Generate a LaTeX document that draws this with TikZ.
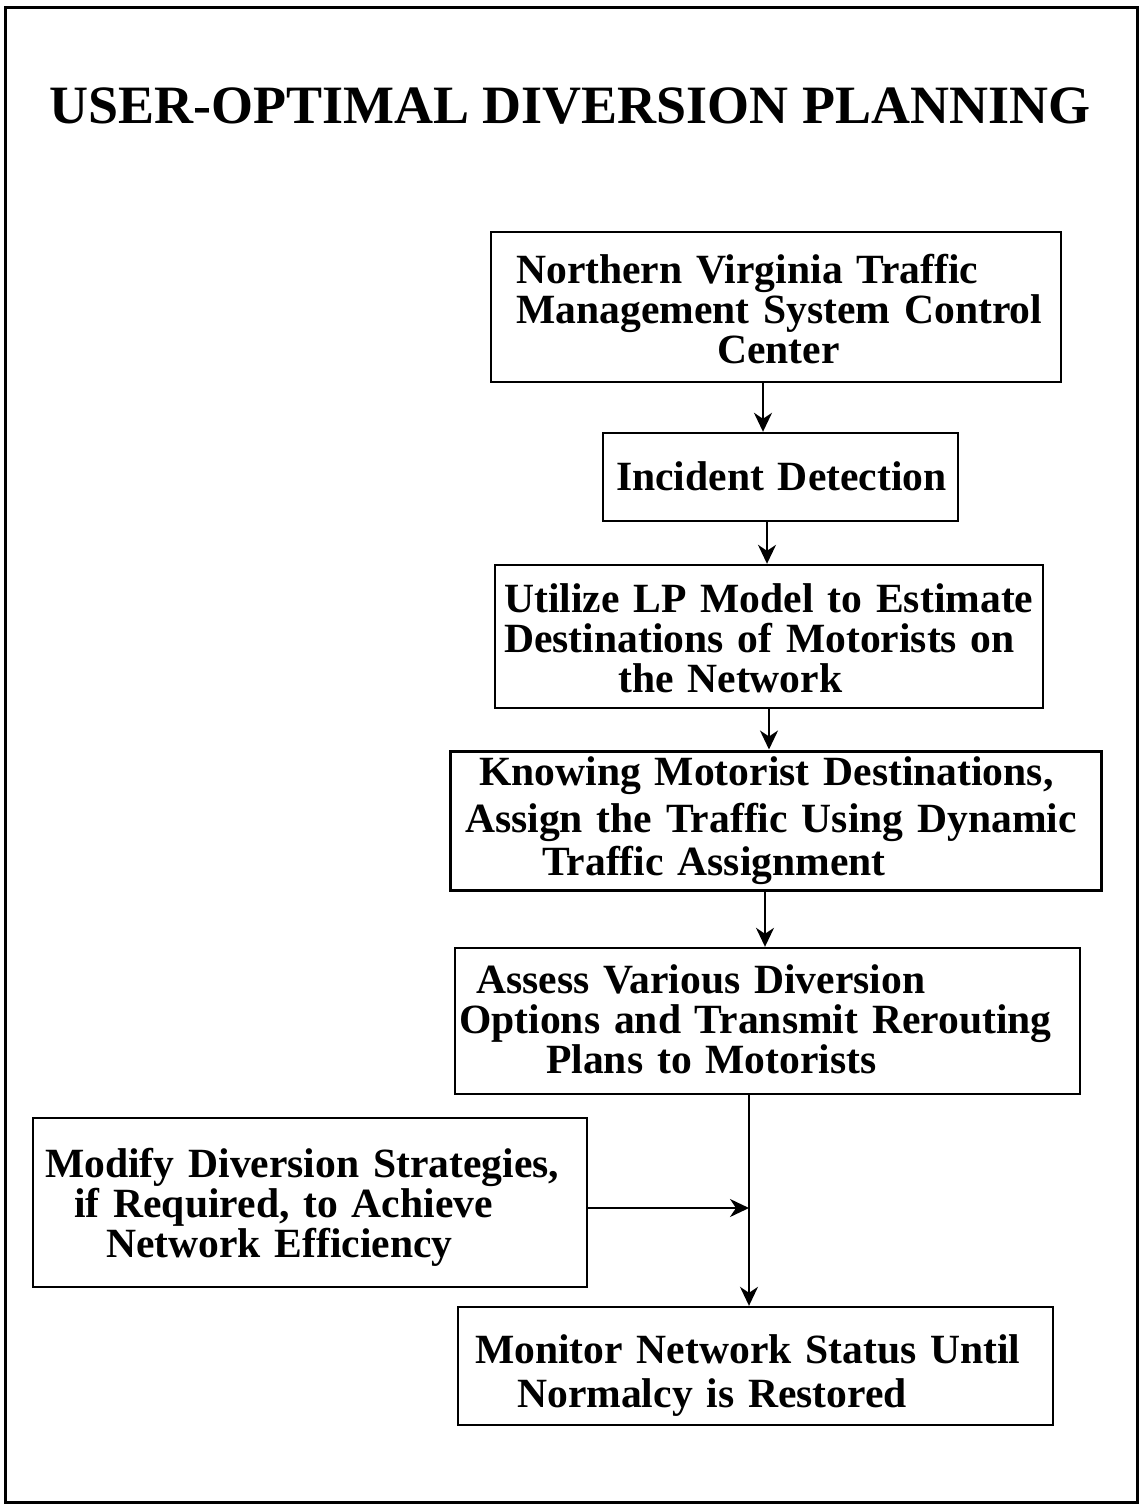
\documentclass[tikz,border=0pt]{standalone}
\usepackage{fontspec}
\setmainfont{Liberation Serif}
\usetikzlibrary{arrows.meta}

\tikzset{
  x=1pt, y=-1pt,
  stepbox/.style={draw, line width=2.4pt, inner sep=0pt, rectangle},
  steptext/.style={anchor=base west, inner sep=0pt, text width=700pt, align=left,
    font=\fontsize{41.6}{40}\selectfont\bfseries},
  flow/.style={line width=2pt, -{Stealth[length=19pt,width=18pt,inset=6pt]}},
}

\begin{document}
\begin{tikzpicture}
\useasboundingbox (0,0) rectangle (1139,1504);

% outer frame
\draw[line width=3pt] (5,8) rectangle (1137,1502);

% heading
\node[anchor=base, inner sep=0pt, font=\fontsize{54}{54}\selectfont\bfseries] (title) at (570,123)
  {USER-OPTIMAL DIVERSION PLANNING};

% step boxes (centre, size)
\node[stepbox, line width=2pt, minimum width=570pt, minimum height=150pt] (b1) at (776,307) {};
\node[stepbox, minimum width=355pt, minimum height=88pt] (b2) at (780.5,477) {};
\node[stepbox, minimum width=548pt, minimum height=143pt] (b3) at (769,636.5) {};
\node[stepbox, line width=3pt, minimum width=651pt, minimum height=139pt] (b4) at (775.5,820.5) {};
\node[stepbox, minimum width=625pt, minimum height=146pt] (b5) at (767.5,1021) {};
\node[stepbox, minimum width=554pt, minimum height=169pt] (b6) at (310,1202.5) {};
\node[stepbox, minimum width=595pt, minimum height=118pt] (b7) at (755.5,1366) {};

% box texts
\node[steptext] (t1) at (516,283)
  {Northern Virginia Traffic\\Management System Control\\\hspace*{201pt}Center};
\node[steptext] (t2) at (616,490) {Incident Detection};
\node[steptext] (t3) at (504,612)
  {Utilize LP Model to Estimate\\Destinations of Motorists on\\\hspace*{114pt}the Network};
\node[steptext] (t4) at (465,785)
  {\hspace*{14pt}Knowing Motorist Destinations,\\[7pt]Assign the Traffic Using Dynamic\\[3pt]\hspace*{77pt}Traffic Assignment};
\node[steptext] (t5) at (459,993)
  {\hspace*{17pt}Assess Various Diversion\\Options and Transmit Rerouting\\\hspace*{87pt}Plans to Motorists};
\node[steptext] (t6) at (45,1177)
  {Modify Diversion Strategies,\\\hspace*{29pt}if Required, to Achieve\\\hspace*{61pt}Network Efficiency};
\node[steptext] (t7) at (475,1363)
  {Monitor Network Status Until\\[4pt]\hspace*{42pt}Normalcy is Restored};

% connectors
\draw[flow] (763,0 |- b1.south) -- (763,0 |- b2.north);
\draw[flow] (767,0 |- b2.south) -- (767,0 |- b3.north);
\draw[flow] (769,0 |- b3.south) -- (769,0 |- b4.north);
\draw[flow] (765,0 |- b4.south) -- (765,0 |- b5.north);
\draw[flow] (749,0 |- b5.south) -- (749,0 |- b7.north);
\coordinate (join) at (749,1208);
\draw[flow] (b6.east |- join) -- (join);
\end{tikzpicture}
\end{document}
